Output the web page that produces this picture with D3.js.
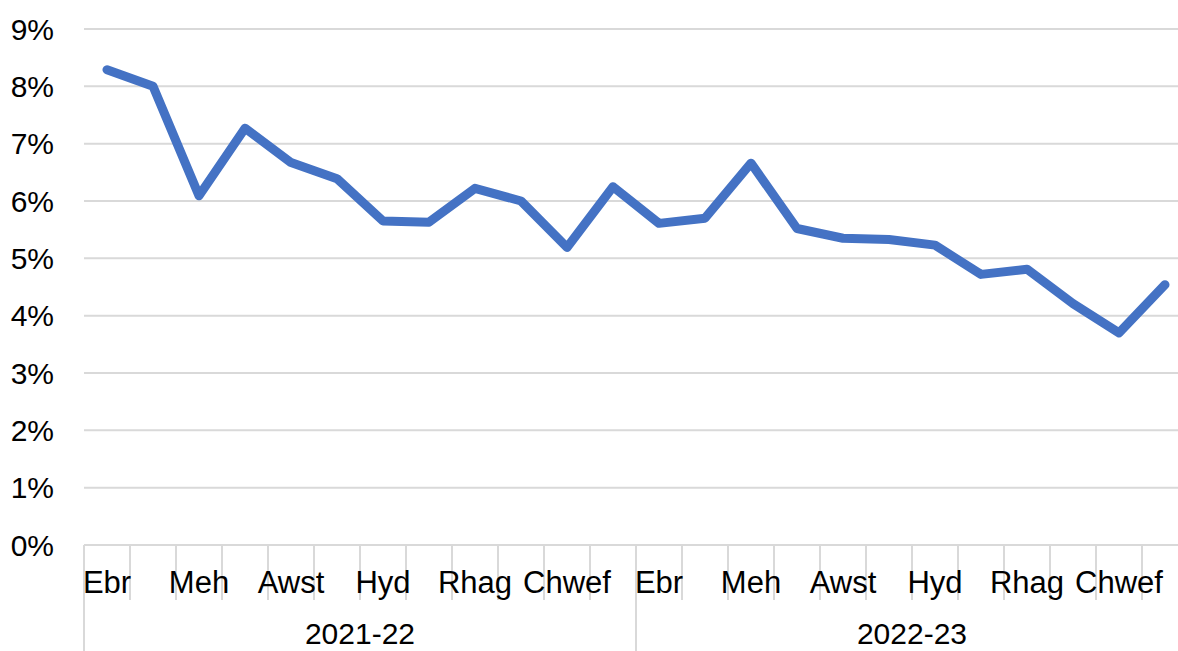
<!DOCTYPE html>
<html lang="cy">

<head>
    <meta charset="utf-8">
    <title>chart</title>
    <script src="https://cdn.jsdelivr.net/npm/d3@7"></script>
</head>
<style>
    body {
        margin: 0;
        background: #fff;
    }

    svg text {
        font-family: "Liberation Sans", Arial, sans-serif;
        fill: #000;
    }
</style>

<body>
    <script>
        // data
        var months = ["Ebr", "Mai", "Meh", "Gorff", "Awst", "Medi", "Hyd", "Tach", "Rhag", "Ion", "Chwef", "Maw"];
        var years = ["2021-22", "2022-23"];
        var values = [
            8.29, 8.00, 6.09, 7.27, 6.67, 6.39, 5.65, 5.63, 6.22, 6.00, 5.19, 6.25,
            5.61, 5.70, 6.66, 5.52, 5.35, 5.33, 5.23, 4.72, 4.81, 4.21, 3.70, 4.54
        ];
        var yTicks = [0, 1, 2, 3, 4, 5, 6, 7, 8, 9];
        var labelEvery = 2;

        var width = 1178, height = 651;
        // plot box (the right edge runs past the picture, as in the original crop)
        var plotLeft = 84, plotRight = 1188, plotTop = 29, plotBottom = 545;
        var grey = "#d9d9d9";

        var idx = d3.range(values.length);

        var x = d3.scaleBand()
            .domain(idx)
            .range([plotLeft, plotRight])
            .padding(0);

        var y = d3.scaleLinear()
            .domain([0, 9])
            .range([plotBottom, plotTop]);

        var svg = d3.select("body")
            .append("svg")
            .attr("width", width)
            .attr("height", height);

        // horizontal grid
        svg.append("g")
            .selectAll("line")
            .data(yTicks)
            .join("line")
            .attr("x1", plotLeft)
            .attr("x2", plotRight)
            .attr("y1", d => y(d))
            .attr("y2", d => y(d))
            .attr("stroke", grey)
            .attr("stroke-width", 2);

        // y labels
        svg.append("g")
            .selectAll("text")
            .data(yTicks)
            .join("text")
            .attr("x", plotLeft - 30)
            .attr("y", d => y(d))
            .attr("dy", "0.36em")
            .attr("text-anchor", "end")
            .attr("font-size", 30)
            .text(d => d + "%");

        // category tick lines (long ones at year boundaries)
        var bounds = d3.range(values.length + 1);
        svg.append("g")
            .selectAll("line")
            .data(bounds)
            .join("line")
            .attr("x1", d => plotLeft + d * x.bandwidth())
            .attr("x2", d => plotLeft + d * x.bandwidth())
            .attr("y1", plotBottom)
            .attr("y2", d => d % months.length == 0 ? height : 600)
            .attr("stroke", grey)
            .attr("stroke-width", 2);

        // month labels
        svg.append("g")
            .selectAll("text")
            .data(idx.filter(i => (i % months.length) % labelEvery == 0))
            .join("text")
            .attr("x", i => x(i) + x.bandwidth() / 2)
            .attr("y", 593)
            .attr("text-anchor", "middle")
            .attr("font-size", 31)
            .text(i => months[i % months.length]);

        // year labels
        svg.append("g")
            .selectAll("text")
            .data(years)
            .join("text")
            .attr("x", (d, i) => x(i * months.length) + x.bandwidth() * months.length / 2)
            .attr("y", 644)
            .attr("text-anchor", "middle")
            .attr("font-size", 30)
            .text(d => d);

        // line
        var line = d3.line()
            .x((d, i) => x(i) + x.bandwidth() / 2)
            .y(d => y(d));

        svg.append("path")
            .datum(values)
            .attr("fill", "none")
            .attr("stroke", "#4472C4")
            .attr("stroke-width", 9)
            .attr("stroke-linejoin", "round")
            .attr("stroke-linecap", "round")
            .attr("d", line);
    </script>
</body>

</html>
